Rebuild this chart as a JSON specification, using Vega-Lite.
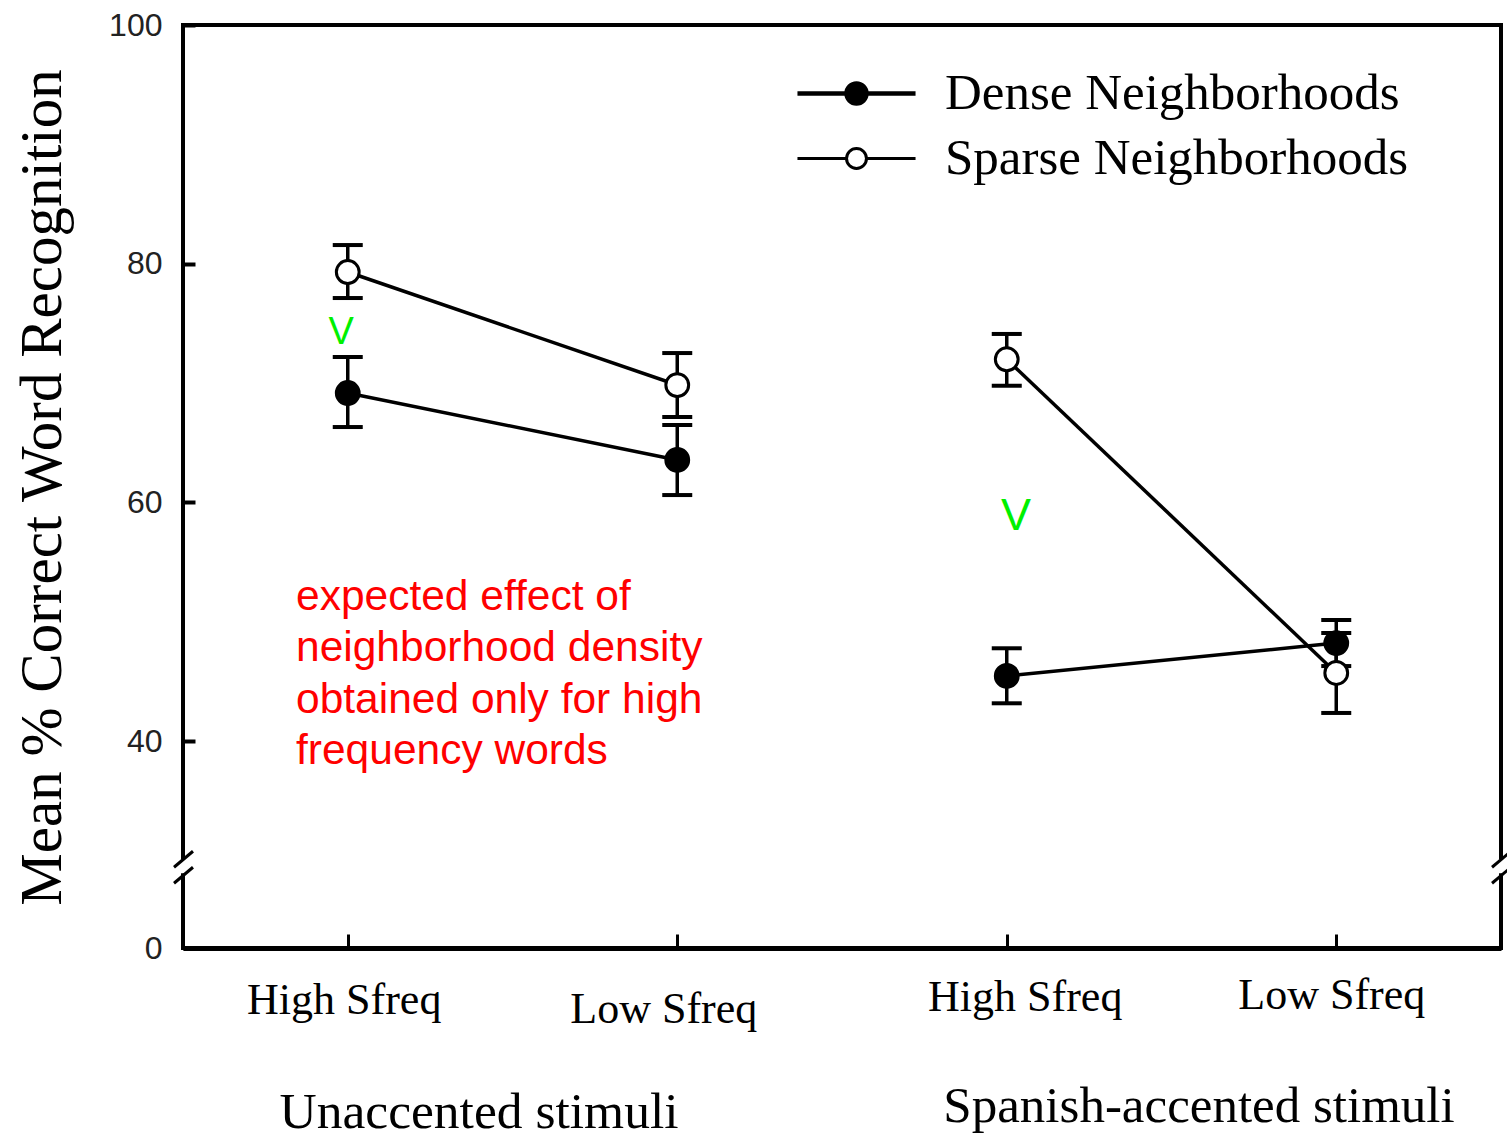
{
  "$schema": "https://vega.github.io/schema/vega-lite/v6.json",
  "width": 1318,
  "height": 923,
  "autosize": {"type": "none"},
  "padding": {"left": 183, "top": 25, "right": 6, "bottom": 188},
  "background": "white",
  "config": {"view": {"stroke": null}, "font": "Liberation Serif"},
  "datasets": {
    "means": [
      {"stimuli": "Unaccented", "frequency": "High Sfreq", "slot": 1, "density": "Dense Neighborhoods", "mean": 69.16, "lo": 66.31, "hi": 72.18},
      {"stimuli": "Unaccented", "frequency": "High Sfreq", "slot": 1, "density": "Sparse Neighborhoods", "mean": 79.3, "lo": 77.12, "hi": 81.56},
      {"stimuli": "Unaccented", "frequency": "Low Sfreq", "slot": 2, "density": "Dense Neighborhoods", "mean": 63.55, "lo": 60.61, "hi": 66.48},
      {"stimuli": "Unaccented", "frequency": "Low Sfreq", "slot": 2, "density": "Sparse Neighborhoods", "mean": 69.83, "lo": 67.15, "hi": 72.51},
      {"stimuli": "Spanish-accented", "frequency": "High Sfreq", "slot": 3, "density": "Dense Neighborhoods", "mean": 45.45, "lo": 43.16, "hi": 47.77},
      {"stimuli": "Spanish-accented", "frequency": "High Sfreq", "slot": 3, "density": "Sparse Neighborhoods", "mean": 71.99, "lo": 69.77, "hi": 74.11},
      {"stimuli": "Spanish-accented", "frequency": "Low Sfreq", "slot": 4, "density": "Dense Neighborhoods", "mean": 48.21, "lo": 46.28, "hi": 50.14},
      {"stimuli": "Spanish-accented", "frequency": "Low Sfreq", "slot": 4, "density": "Sparse Neighborhoods", "mean": 45.7, "lo": 42.35, "hi": 49.05}
    ],
    "one": [{}]
  },
  "layer": [
    {
      "data": {"name": "means"},
      "mark": {"type": "line", "color": "black", "strokeWidth": 3.5},
      "encoding": {
        "x": {
          "field": "slot", "type": "quantitative", "title": null,
          "scale": {"domain": [0.5, 4.5], "nice": false, "zero": false},
          "axis": {
            "title": null,
            "values": [1, 1.5, 2, 3, 3.5, 4],
            "labelExpr": "datum.value == 1 || datum.value == 3 ? 'High Sfreq' : (datum.value == 2 || datum.value == 4 ? 'Low Sfreq' : (datum.value == 1.5 ? 'Unaccented stimuli' : 'Spanish-accented stimuli'))",
            "labelFont": "Liberation Serif",
            "labelColor": "black",
            "labelFontSize": {"condition": [
              {"test": "datum.value == 1.5", "value": 51.5},
              {"test": "datum.value == 3.5", "value": 51}
            ], "value": 44},
            "labelBaseline": "alphabetic",
            "labelPadding": {"condition": [
              {"test": "datum.value == 1", "value": 79},
              {"test": "datum.value == 2", "value": 88},
              {"test": "datum.value == 3", "value": 76},
              {"test": "datum.value == 4", "value": 74},
              {"test": "datum.value == 1.5", "value": 193}
            ], "value": 187},
            "labelOffset": {"condition": [
              {"test": "datum.value == 1", "value": -4},
              {"test": "datum.value == 2", "value": -14},
              {"test": "datum.value == 3", "value": 18},
              {"test": "datum.value == 4", "value": -5},
              {"test": "datum.value == 1.5", "value": -34}
            ], "value": 27},
            "labelOverlap": false,
            "labelFlush": false,
            "labelBound": false,
            "labelLimit": 800,
            "ticks": true,
            "tickSize": -14,
            "tickWidth": 3,
            "tickColor": "black",
            "tickOpacity": {"condition": {"test": "datum.value == 1.5 || datum.value == 3.5", "value": 0}, "value": 1},
            "domain": true,
            "domainColor": "black",
            "domainWidth": 5,
            "grid": false
          }
        },
        "y": {
          "field": "mean", "type": "quantitative", "title": "Mean % Correct Word Recognition",
          "scale": {"domain": [0, 25, 100], "range": [923, 895, 0], "nice": false, "zero": false},
          "axis": {
            "title": "Mean % Correct Word Recognition",
            "values": [0, 40, 60, 80, 100],
            "titleFont": "Liberation Serif",
            "titleFontSize": 59,
            "titleFontWeight": "normal",
            "titleColor": "black",
            "titleX": -123,
            "titleY": 462,
            "titleAngle": -90,
            "titleAlign": "center",
            "titleBaseline": "alphabetic",
            "labelFont": "Liberation Sans",
            "labelFontSize": 32,
            "labelColor": "#222222",
            "labelPadding": 33,
            "tickSize": -12,
            "tickWidth": 4,
            "tickColor": "black",
            "domain": false,
            "grid": false
          }
        },
        "detail": [{"field": "stimuli"}, {"field": "density"}]
      }
    },
    {
      "data": {"name": "means"},
      "mark": {
        "type": "errorbar",
        "ticks": {"size": 30, "thickness": 4, "color": "black", "opacity": 1},
        "rule": {"strokeWidth": 3.5, "color": "black", "opacity": 1}
      },
      "encoding": {
        "x": {"field": "slot", "type": "quantitative", "title": null},
        "y": {"field": "lo", "type": "quantitative", "title": "Mean % Correct Word Recognition"},
        "y2": {"field": "hi"},
        "detail": {"field": "density"}
      }
    },
    {
      "data": {"name": "means"},
      "mark": {"type": "point", "shape": "circle", "filled": true, "size": 520, "stroke": "black", "strokeWidth": 3, "opacity": 1},
      "encoding": {
        "x": {"field": "slot", "type": "quantitative", "title": null},
        "y": {"field": "mean", "type": "quantitative", "title": "Mean % Correct Word Recognition"},
        "fill": {
          "field": "density", "type": "nominal",
          "scale": {"domain": ["Dense Neighborhoods", "Sparse Neighborhoods"], "range": ["black", "white"]},
          "legend": {
            "title": null,
            "orient": "none",
            "legendX": 648,
            "legendY": 43,
            "padding": 0,
            "symbolType": "M-4.92,0H-0.83M0.83,0H4.92M-0.83,0A0.83,0.83 0 1 1 0.83,0A0.83,0.83 0 1 1 -0.83,0Z",
            "symbolSize": 576,
            "symbolStrokeColor": "black",
            "symbolStrokeWidth": 3,
            "symbolOpacity": 1,
            "labelFont": "Liberation Serif",
            "labelFontSize": 51,
            "labelColor": "black",
            "labelOffset": 63,
            "labelLimit": 800,
            "rowPadding": 13,
            "encode": {"symbols": {"update": {"stroke": {"value": "black"}, "strokeWidth": {"signal": "datum.value === 'Dense Neighborhoods' ? 4.5 : 3"}}}}
          }
        }
      }
    },
    {
      "data": {"name": "one"},
      "mark": {"type": "rule", "color": "black", "strokeWidth": 4, "strokeCap": "square"},
      "encoding": {"x": {"datum": 0.5}, "x2": {"datum": 4.5}, "y": {"datum": 100}}
    },
    {
      "data": {"name": "one"},
      "mark": {"type": "rule", "color": "black", "strokeWidth": 4, "strokeCap": "square"},
      "encoding": {"x": {"datum": 0.5}, "y": {"datum": 100}, "y2": {"datum": 30.26}}
    },
    {
      "data": {"name": "one"},
      "mark": {"type": "rule", "color": "black", "strokeWidth": 4, "strokeCap": "square"},
      "encoding": {"x": {"datum": 0.5}, "y": {"datum": 28.75}, "y2": {"datum": 0}}
    },
    {
      "data": {"name": "one"},
      "mark": {"type": "rule", "color": "black", "strokeWidth": 4, "strokeCap": "square"},
      "encoding": {"x": {"datum": 4.5}, "y": {"datum": 100}, "y2": {"datum": 30.26}}
    },
    {
      "data": {"name": "one"},
      "mark": {"type": "rule", "color": "black", "strokeWidth": 4, "strokeCap": "square"},
      "encoding": {"x": {"datum": 4.5}, "y": {"datum": 28.75}, "y2": {"datum": 0}}
    },
    {
      "data": {"name": "one"},
      "mark": {"type": "rule", "color": "black", "strokeWidth": 3},
      "encoding": {"x": {"datum": 0.4727}, "y": {"datum": 29.42}, "x2": {"datum": 0.5303}, "y2": {"datum": 30.76}}
    },
    {
      "data": {"name": "one"},
      "mark": {"type": "rule", "color": "black", "strokeWidth": 3},
      "encoding": {"x": {"datum": 0.4727}, "y": {"datum": 28.08}, "x2": {"datum": 0.5303}, "y2": {"datum": 29.42}}
    },
    {
      "data": {"name": "one"},
      "mark": {"type": "rule", "color": "black", "strokeWidth": 3},
      "encoding": {"x": {"datum": 4.4727}, "y": {"datum": 29.42}, "x2": {"datum": 4.5303}, "y2": {"datum": 30.76}}
    },
    {
      "data": {"name": "one"},
      "mark": {"type": "rule", "color": "black", "strokeWidth": 3},
      "encoding": {"x": {"datum": 4.4727}, "y": {"datum": 28.08}, "x2": {"datum": 4.5303}, "y2": {"datum": 29.42}}
    },
    {
      "data": {"name": "one"},
      "mark": {
        "type": "text",
        "text": ["expected effect of", "neighborhood density", "obtained only for high", "frequency words"],
        "font": "Liberation Sans", "fontSize": 42.5, "color": "#ff0000",
        "align": "left", "baseline": "middle", "lineHeight": 51.5
      },
      "encoding": {"x": {"datum": 0.843}, "y": {"datum": 52.1}}
    },
    {
      "data": {"name": "one"},
      "mark": {"type": "text", "text": "V", "font": "Liberation Sans", "fontSize": 38, "color": "#00f000", "align": "center", "baseline": "middle"},
      "encoding": {"x": {"datum": 0.98}, "y": {"datum": 74.19}}
    },
    {
      "data": {"name": "one"},
      "mark": {"type": "text", "text": "V", "font": "Liberation Sans", "fontSize": 45, "color": "#00f000", "align": "center", "baseline": "middle"},
      "encoding": {"x": {"datum": 3.028}, "y": {"datum": 58.85}}
    }
  ]
}
